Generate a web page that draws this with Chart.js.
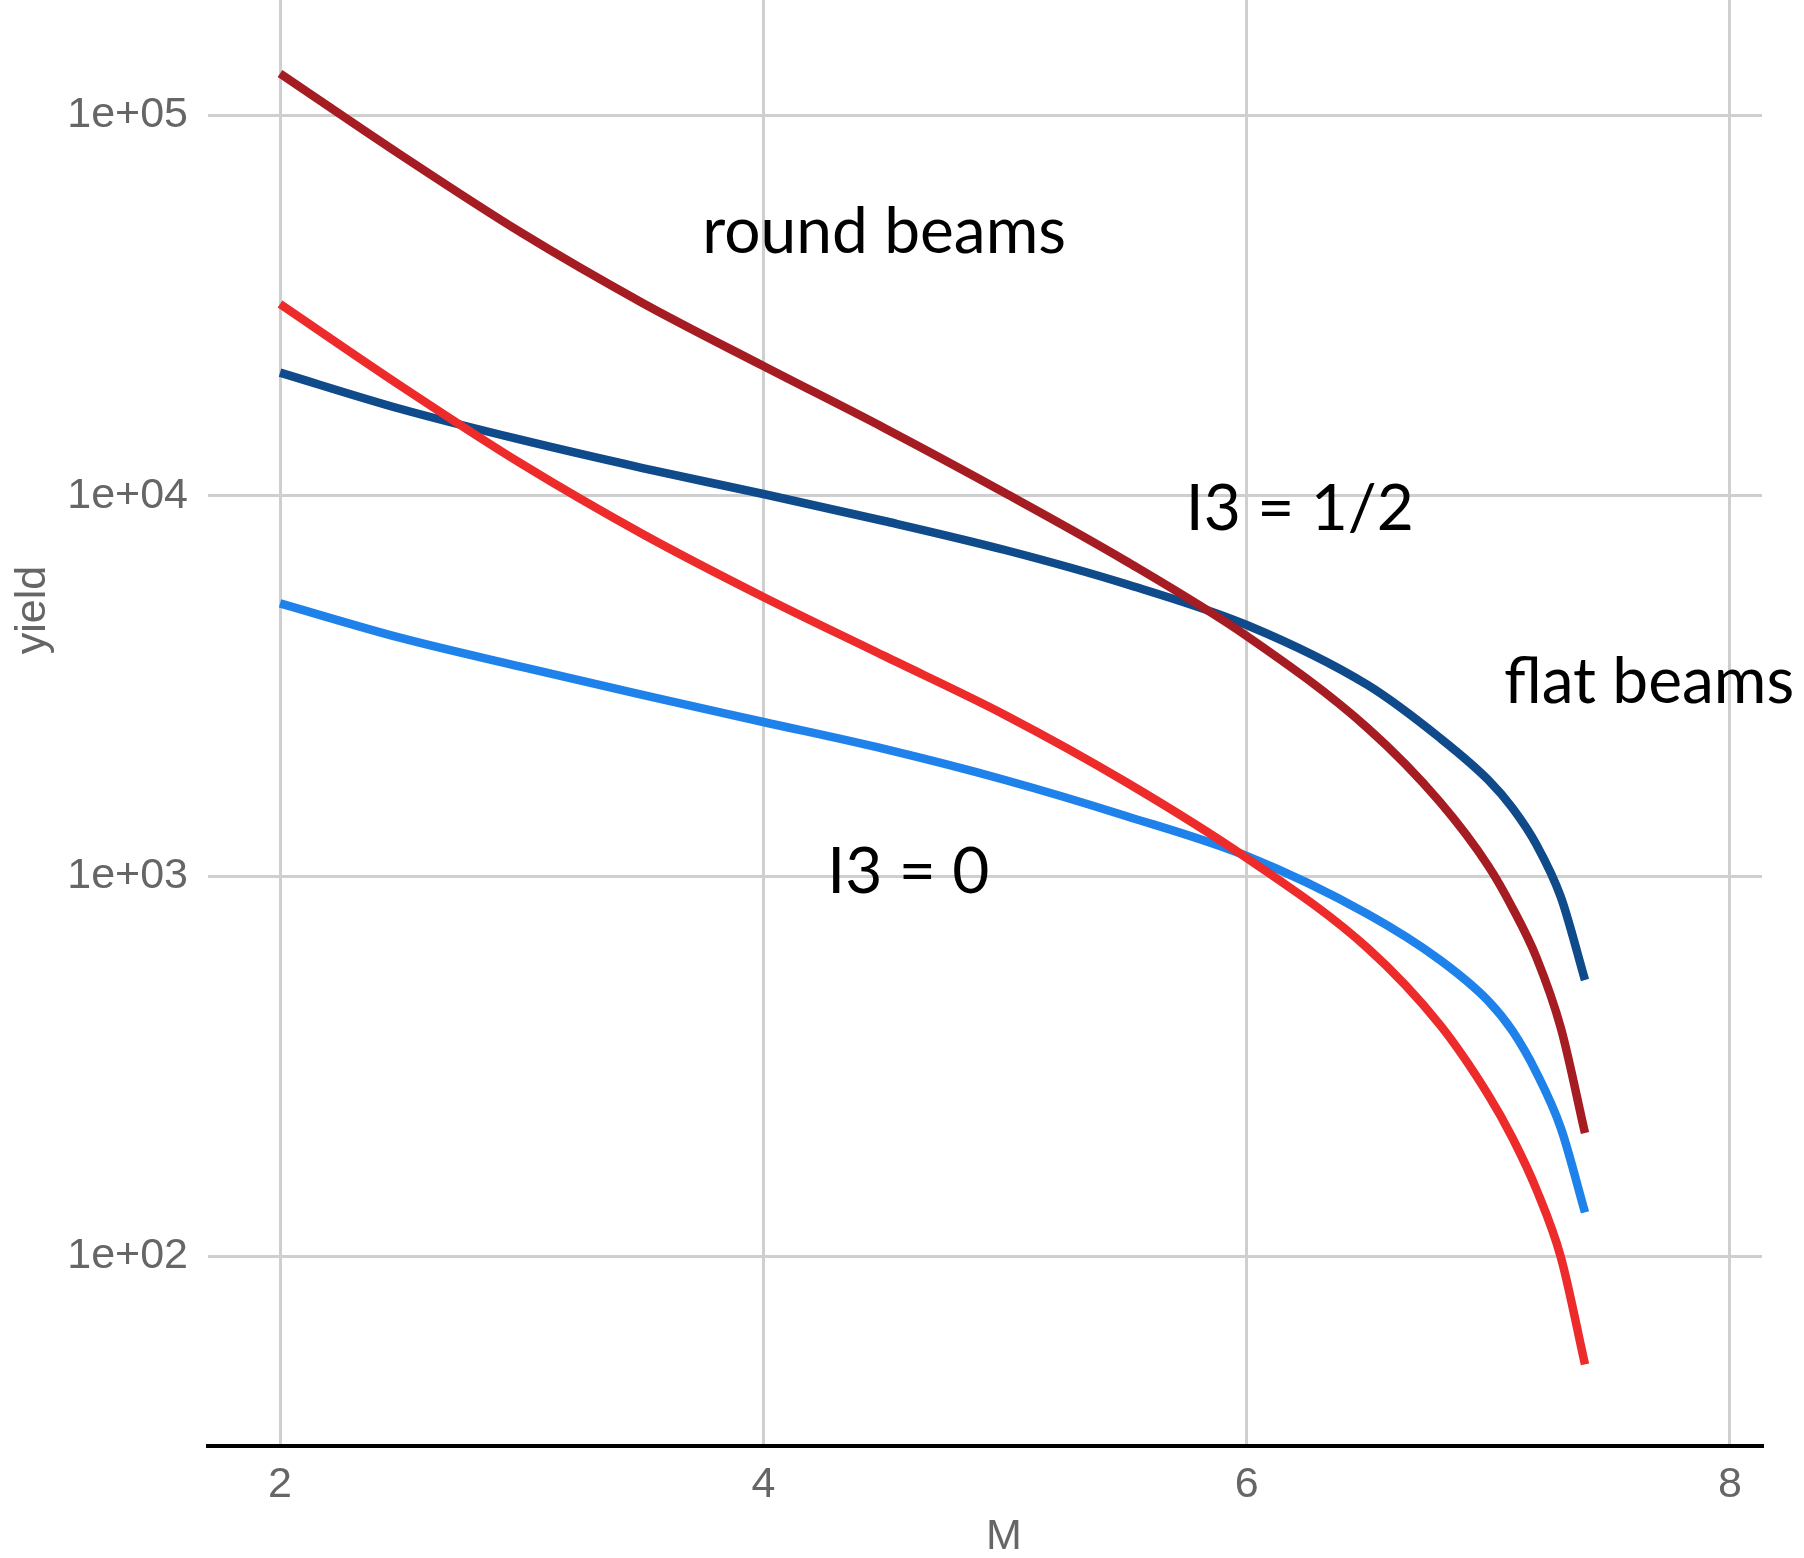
<!DOCTYPE html>
<html>
<head>
<meta charset="utf-8">
<script src="https://cdn.jsdelivr.net/npm/chart.js@4.4.1/dist/chart.umd.min.js"></script>
<style>
  html, body { margin: 0; padding: 0; background: #ffffff; }
  #chart { display: block; }
</style>
</head>
<body>
<canvas id="chart" width="1804" height="1558"></canvas>
<script>
// mass values (M) where the curves were read
const massValues = [2, 2.5, 3, 3.5, 4, 4.5, 5, 5.5, 6, 6.5, 6.8, 7.0, 7.1, 7.2, 7.3, 7.4];

// yields (log axis)
const roundHalf = [128970, 78730, 49100, 32140, 21940, 15080, 10171, 6739, 4279, 2452, 1566, 1063, 824.5, 609, 398.7, 211];
const roundZero = [31940, 19440, 12125, 7935, 5419, 3792, 2653, 1768, 1116, 647, 406, 265.7, 204.8, 149.5, 99.6, 52];
const flatHalf  = [21080, 16910, 14020, 11830, 10110, 8585, 7202, 5862, 4574, 3181, 2307, 1789, 1510, 1207, 881, 533];
const flatZero  = [5213, 4228, 3547, 2994, 2542, 2159, 1789, 1439, 1129, 795, 601.6, 469.4, 391.5, 303.5, 217.6, 130.5];

// ticks
const xTicks = [2, 4, 6, 8];
const yTicks = [1e2, 1e3, 1e4, 1e5];
const yTickLabels = ["1e+02", "1e+03", "1e+04", "1e+05"];

// text labels inside the panel
const notes = [
  { text: "round beams", m: 4.50, y: 43500 },
  { text: "I3 = 1/2", m: 6.22, y: 8130 },
  { text: "flat beams", m: 7.665, y: 2850 },
  { text: "I3 = 0", m: 4.60, y: 905 },
];

const toPoints = (ys) => massValues.map((m, i) => ({ x: m, y: ys[i] }));

const axisGrey = "#666666";
const tickFont = { family: "'Liberation Sans', Arial, sans-serif", size: 43 };

const lineStyle = (color) => ({
  borderColor: color,
  backgroundColor: color,
  borderWidth: 8.5,
  pointRadius: 0,
  fill: false,
  cubicInterpolationMode: "monotone",
  borderCapStyle: "butt",
  borderJoinStyle: "round",
});

// axis titles + annotations
const textPlugin = {
  id: "textPlugin",
  afterDatasetsDraw(chart) {
    const { ctx, chartArea, scales } = chart;
    ctx.save();
    ctx.fillStyle = "#000000";
    ctx.font = "64px Lato, 'Noto Sans', sans-serif";
    ctx.textAlign = "center";
    ctx.textBaseline = "alphabetic";
    notes.forEach((n) => {
      ctx.fillText(n.text, scales.x.getPixelForValue(n.m), scales.y.getPixelForValue(n.y));
    });

    ctx.fillStyle = axisGrey;
    ctx.font = "43px 'Liberation Sans', Arial, sans-serif";
    ctx.textBaseline = "middle";
    ctx.fillText("M", chartArea.left + 796, chartArea.bottom + 91);

    ctx.translate(33, chartArea.top + 610);
    ctx.rotate(-Math.PI / 2);
    ctx.fillText("yield", 0, 0);
    ctx.restore();
  },
};

const noEdgePadding = (scale) => {
  scale.paddingTop = 0;
  scale.paddingBottom = 0;
  scale.paddingLeft = 0;
  scale.paddingRight = 0;
};

new Chart(document.getElementById("chart"), {
  type: "line",
  data: {
    datasets: [
      { label: "round beams, I3 = 1/2", data: toPoints(roundHalf), ...lineStyle("#a51c22") },
      { label: "round beams, I3 = 0", data: toPoints(roundZero), ...lineStyle("#ed2b2b") },
      { label: "flat beams, I3 = 1/2", data: toPoints(flatHalf), ...lineStyle("#0f4a8a") },
      { label: "flat beams, I3 = 0", data: toPoints(flatZero), ...lineStyle("#1e82ea") },
    ],
  },
  options: {
    responsive: false,
    animation: false,
    devicePixelRatio: 1,
    layout: { padding: { left: 0, right: 42, top: 0, bottom: 0 } },
    plugins: {
      legend: { display: false },
      tooltip: { enabled: false },
    },
    scales: {
      x: {
        type: "linear",
        min: 1.702,
        max: 8.1325,
        afterBuildTicks: (scale) => { scale.ticks = xTicks.map((v) => ({ value: v })); },
        afterFit: (scale) => { scale.height = 112; noEdgePadding(scale); },
        ticks: {
          color: axisGrey,
          font: tickFont,
          padding: 13,
          maxRotation: 0,
          callback: (v) => String(v),
        },
        grid: { color: "#cfcfcf", lineWidth: 3, drawTicks: false },
        border: { display: true, color: "#000000", width: 4 },
      },
      y: {
        type: "logarithmic",
        min: 31.73,
        max: 201200,
        afterBuildTicks: (scale) => { scale.ticks = yTicks.map((v) => ({ value: v })); },
        afterFit: (scale) => { scale.width = 208; noEdgePadding(scale); },
        ticks: {
          color: axisGrey,
          font: tickFont,
          padding: 20,
          callback: (v) => yTickLabels[yTicks.indexOf(v)],
        },
        grid: { color: "#cfcfcf", lineWidth: 3, drawTicks: false },
        border: { display: false },
      },
    },
  },
  plugins: [textPlugin],
});
</script>
</body>
</html>
